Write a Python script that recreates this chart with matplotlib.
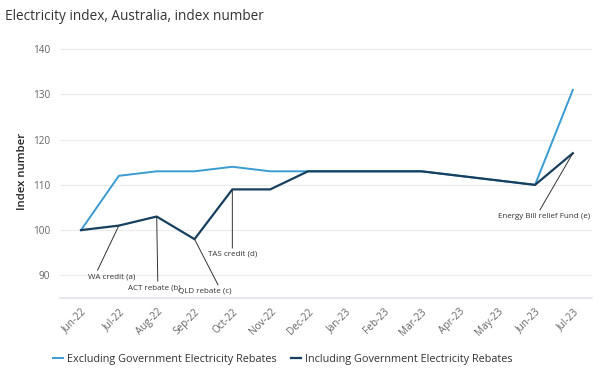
import numpy as np
import matplotlib.pyplot as plt
from matplotlib.lines import Line2D

plt.rcParams['font.family'] = ['Open Sans', 'DejaVu Sans']

# Datos
meses = ["Jun-22", "Jul-22", "Aug-22", "Sep-22", "Oct-22", "Nov-22", "Dec-22",
         "Jan-23", "Feb-23", "Mar-23", "Apr-23", "May-23", "Jun-23", "Jul-23"]
sin_rebajas = [100, 112, 113, 113, 114, 113, 113, 113, 113, 113, 112, 111, 110, 131]
con_rebajas = [100, 101, 103, 98, 109, 109, 113, 113, 113, 113, 112, 111, 110, 117]

# Notas: (indice del mes, texto, desplazamiento en px, punto de enganche)
notas = [
    (1, "WA credit (a)", (-7, -51), (0.17, 1.0)),
    (2, "ACT rebate (b)", (-2, -71), (0.56, 1.0)),
    (3, "QLD rebate (c)", (10, -52), (0.78, 1.0)),
    (4, "TAS credit (d)", (0, -65), (0.5, 1.0)),
    (13, "Energy Bill relief Fund (e)", (-29, -63), (0.44, 1.0)),
]

color_sin = "#3a9bd1"
color_con = "#173f5f"

fig = plt.figure(figsize=(6.02, 3.72), dpi=100)
ax = fig.add_axes([0.100, 0.199, 0.883, 0.681])

x = np.arange(len(meses))
ax.plot(x, sin_rebajas, color=color_sin, lw=1.4, zorder=3)
ax.plot(x, con_rebajas, color=color_con, lw=1.6, zorder=4)

for i, texto, (dx, dy), rel in notas:
    ax.annotate(texto, xy=(x[i], con_rebajas[i]),
                xytext=(dx * 0.72, dy * 0.72), textcoords="offset points",
                ha="center", va="center", fontsize=5.8, color="#333333",
                arrowprops=dict(arrowstyle="-", color="#333333", lw=0.7,
                                relpos=rel, shrinkA=0, shrinkB=0),
                zorder=5)

ax.set_xlim(-0.55, 13.5)
ax.set_ylim(85, 141)
ax.set_yticks([90, 100, 110, 120, 130, 140])
ax.set_xticks(x)
ax.set_xticklabels(meses, rotation=45, ha="right", rotation_mode="anchor")
ax.tick_params(axis="both", length=0, labelsize=7.2, labelcolor="#666666")
ax.tick_params(axis="x", pad=6)
ax.tick_params(axis="y", pad=7)
ax.grid(axis="y", color="#ececec", lw=0.9)
ax.set_axisbelow(True)
for lado in ["top", "right", "left"]:
    ax.spines[lado].set_visible(False)
ax.spines["bottom"].set_color("#dfe3ea")
ax.spines["bottom"].set_linewidth(1.2)

ax.set_ylabel("Index number", fontsize=8.2, color="#222222", fontweight="semibold", labelpad=4)

fig.text(0.008, 0.955, "Electricity index, Australia, index number",
         fontsize=9.8, color="#333333", va="center", ha="left")

manijas = [Line2D([], [], color=color_sin, lw=1.4),
           Line2D([], [], color=color_con, lw=1.6)]
fig.legend(manijas, ["Excluding Government Electricity Rebates",
                     "Including Government Electricity Rebates"],
           loc="center", bbox_to_anchor=(0.47, 0.033), ncol=2, frameon=False,
           fontsize=7.8, handlelength=0.9, handletextpad=0.4, columnspacing=1.3,
           labelcolor="#333333")

fig.savefig("out.png", dpi=100)
